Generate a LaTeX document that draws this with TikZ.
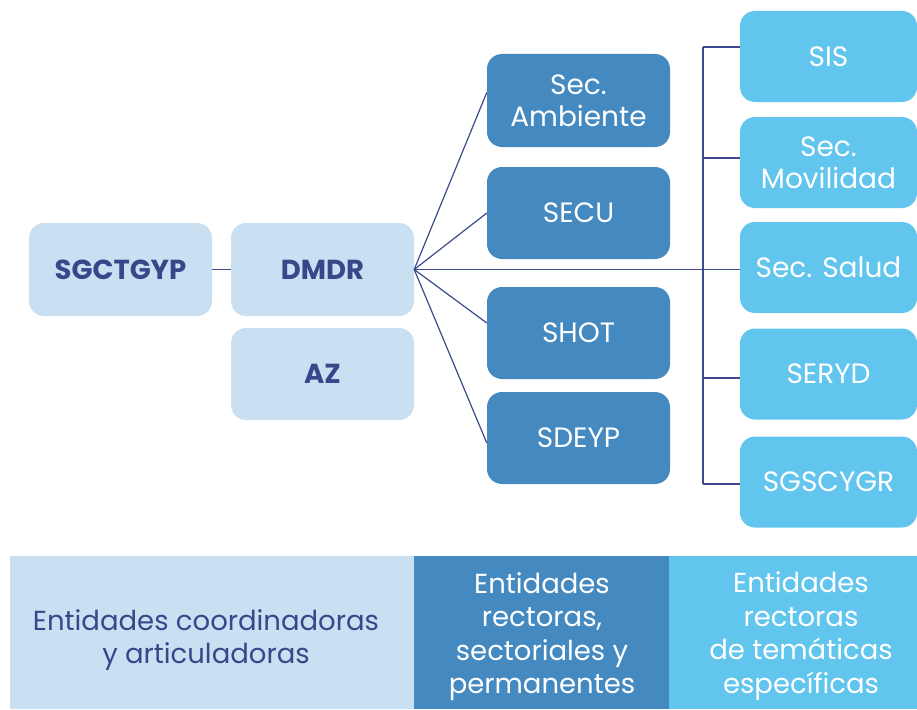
\documentclass[tikz,border=0pt]{standalone}
\usepackage{fontspec}
\setmainfont{Poppins}
\usetikzlibrary{calc}
\definecolor{lightb}{HTML}{C9E0F2}
\definecolor{midb}{HTML}{4489C0}
\definecolor{brightb}{HTML}{61C5EE}
\definecolor{darktxt}{HTML}{35488A}
\definecolor{linec}{HTML}{3B4A8C}
\tikzset{
  box/.style={rounded corners=15pt, minimum width=183pt, minimum height=93pt, inner sep=0pt, align=center},
  coordbox/.style={box, fill=lightb, text=darktxt, font=\fontsize{27.5}{32}\selectfont\bfseries},
  rectbox/.style={box, fill=midb, text=white, font=\fontsize{28}{32}\selectfont},
  themebox/.style={box, fill=brightb, text=white, minimum width=177pt, minimum height=91pt, font=\fontsize{28}{32}\selectfont},
  bandtext/.style={inner sep=0pt, align=center, font=\fontsize{27.5}{33.5}\selectfont},
  conn/.style={draw=linec, line width=1.2pt}
}
\begin{document}
\begin{tikzpicture}[x=1pt,y=-1pt]
\useasboundingbox (0,0) rectangle (917,709);
% left column
\node[coordbox] (sg) at (120.5,269.5) {SGCTGYP};
\node[coordbox] (dm) at (322.5,269.5) {DMDR};
\node[coordbox, minimum height=92pt] (az) at (322.5,374) {AZ};
% middle column
\node[rectbox] (sa) at (578.5,100.5) {Sec.\\Ambiente};
\node[rectbox, minimum height=92pt] (secu) at (578.5,213) {SECU};
\node[rectbox, minimum height=92pt] (shot) at (578.5,333) {SHOT};
\node[rectbox, minimum height=92pt] (sdeyp) at (578.5,438) {SDEYP};
% right column
\node[themebox] (sis) at (828.5,56.5) {SIS};
\node[themebox] (mov) at (828.5,162.5) {Sec.\\Movilidad};
\node[themebox] (salud) at (828.5,267.5) {Sec. Salud};
\node[themebox] (seryd) at (828.5,374) {SERYD};
\node[themebox] (sgs) at (828.5,482) {SGSCYGR};
% connectors
\draw[conn] (sg.east) -- (dm.west);
\draw[conn] (dm.east) -- ($(sa.west)+(0,-8)$);
\draw[conn] (dm.east) -- (secu.west);
\draw[conn] (dm.east) -- ($(shot.west)+(0,-10)$);
\draw[conn] (dm.east) -- ($(sdeyp.west)+(0,5)$);
\draw[conn] (dm.east) -- (dm.east -| salud.west);
% bracket
\coordinate (b1) at (703,47);
\coordinate (b2) at (703,158);
\coordinate (b4) at (703,378);
\coordinate (b5) at (703,484);
\draw[conn] (b1) -- (b5);
\draw[conn] (b1) -- (b1 -| sis.west);
\draw[conn] (b2) -- (b2 -| mov.west);
\draw[conn] (b4) -- (b4 -| seryd.west);
\draw[conn] (b5) -- (b5 -| sgs.west);
% bottom band
\fill[lightb] (10,556) rectangle (414,709);
\fill[midb] (414,556) rectangle (669,709);
\fill[brightb] (669,556) rectangle (917,709);
\node[bandtext, text=darktxt] (l1) at (206,640) {Entidades coordinadoras\\y articuladoras};
\node[bandtext, text=white] (l2) at (542,636.5) {Entidades\\rectoras,\\sectoriales y\\permanentes};
\node[bandtext, text=white] (l3) at (801,636) {Entidades\\rectoras\\de temáticas\\específicas};
\end{tikzpicture}
\end{document}
